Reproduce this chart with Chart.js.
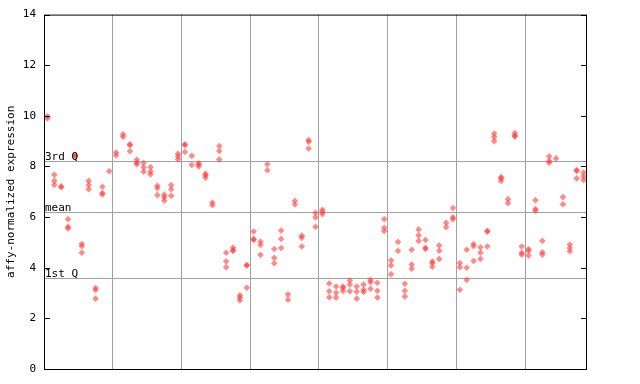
<!DOCTYPE html>
<html><head><meta charset="utf-8">
<script src="https://cdn.jsdelivr.net/npm/chart.js@4.4.0/dist/chart.umd.min.js"></script>
<style>html,body{margin:0;padding:0;background:#fff;}canvas{display:block;}</style>
</head><body>
<canvas id="c" width="640" height="384"></canvas>
<script>
// expression values per sample (replicates)
const columnValues = [
 [9.98,9.9],[7.67,7.43,7.27],[7.22,7.18],[5.92,5.62,5.55],[8.46,8.4],
 [4.94,4.85,4.59],[7.43,7.27,7.1],[3.2,3.12,2.78],[7.2,6.95,6.9],[7.81],
 [8.55,8.44],[9.27,9.17],[8.88,8.84,8.6],[8.27,8.15,8.09],[8.14,7.96,7.79],
 [7.98,7.8,7.69],[7.24,7.14,6.87],[6.88,6.78,6.65],[7.27,7.1,6.84],[8.5,8.4,8.28],
 [8.88,8.84,8.57],[8.42,8.06],[8.13,8.08,8.0],[7.71,7.66,7.56],[6.58,6.47],
 [8.81,8.61,8.28],[4.59,4.25,4.02],[4.8,4.7,4.66],[2.91,2.82,2.71],[4.12,4.08,3.21],
 [5.43,5.14,5.1],[5.03,4.9,4.51],[8.09,7.85],[4.74,4.39,4.18],[5.47,5.14,4.78],
 [2.95,2.74],[6.64,6.5],[5.27,5.18,4.84],[9.04,8.98,8.71],[6.17,5.99,5.62],
 [6.29,6.21,6.12],[3.38,3.07,2.83],[3.26,3.01,2.82],[3.26,3.2,3.08],[3.5,3.34,3.07],
 [3.26,3.05,2.78],[3.34,3.13,3.04],[3.52,3.43,3.17],[3.41,3.09,2.82],[5.92,5.58,5.44],
 [4.29,4.09,3.74],[5.02,4.67],[3.37,3.09,2.86],[4.71,4.13,3.96],[5.51,5.28,5.06],
 [5.1,4.79,4.74],[4.24,4.19,4.04],[4.88,4.67,4.35],[5.78,5.6],[6.36,5.99,5.92],
 [4.19,4.02,3.13],[4.71,4.0,3.52],[4.94,4.85,4.27],[4.81,4.59,4.35],[5.46,5.42,4.84],
 [9.3,9.16,9.0],[7.58,7.53,7.43],[6.71,6.55],[9.32,9.21,9.19],[4.84,4.59,4.52],
 [4.74,4.66,4.48],[6.67,6.32,6.25],[5.06,4.61,4.52],[8.4,8.22,8.15],[8.32],
 [6.79,6.51],[4.92,4.78,4.65],[7.86,7.82,7.53],[7.76,7.61,7.47]
];
const yTicks = [0,2,4,6,8,10,12,14];
const refLabels = ['3rd Q','mean','1st Q'];
const refValues = [8.22, 6.21, 3.6];
const groupBoundaries = [9.5,19.5,29.5,39.5,49.5,59.5,69.5];
const yTitle = 'affy-normalized expression';

const points = [];
columnValues.forEach((vals,i)=>vals.forEach(v=>points.push({x:i,y:v})));

const FONT = '11px "DejaVu Sans Mono"';
const overlay = {
  id:'overlay',
  beforeDatasetsDraw(chart){
    const {ctx, chartArea:a, scales:{y}} = chart;
    ctx.save();
    ctx.strokeStyle='#a0a0a0'; ctx.lineWidth=1;
    refValues.forEach(v=>{
      const py=Math.round(y.getPixelForValue(v))+0.5;
      ctx.beginPath(); ctx.moveTo(a.left,py); ctx.lineTo(a.right,py); ctx.stroke();
    });
    ctx.restore();
  },
  afterDatasetsDraw(chart){
    const {ctx, chartArea:a, scales:{y}} = chart;
    ctx.save();
    ctx.fillStyle='#000'; ctx.font=FONT; ctx.textAlign='left'; ctx.textBaseline='alphabetic';
    refValues.forEach((v,k)=>{
      const py=Math.round(y.getPixelForValue(v));
      ctx.fillText(refLabels[k], a.left+1, py-1);
    });
    ctx.strokeStyle='#000'; ctx.lineWidth=1;
    ctx.strokeRect(a.left+0.5, a.top+0.5, a.right-a.left-1, a.bottom-a.top);
    yTicks.forEach(v=>{
      const py=Math.round(y.getPixelForValue(v))+0.5;
      ctx.beginPath();
      ctx.moveTo(a.left,py); ctx.lineTo(a.left+6,py);
      ctx.moveTo(a.right-6,py); ctx.lineTo(a.right,py);
      ctx.stroke();
    });
    ctx.restore();
  }
};

new Chart(document.getElementById('c'), {
  type:'scatter',
  data:{datasets:[{data:points, pointStyle:'rectRot', pointRadius:3.3,
    backgroundColor:'rgba(255,60,60,0.6)', borderWidth:0, pointHoverRadius:3.3}]},
  options:{
    responsive:false, animation:false, events:[],
    layout:{padding:{left:0,right:53,top:13,bottom:15}},
    plugins:{legend:{display:false}, tooltip:{enabled:false}},
    scales:{
      x:{type:'linear', min:-0.5, max:78.5,
        afterBuildTicks(s){ s.ticks = groupBoundaries.map(v=>({value:v})); },
        afterFit(s){ s.height=0; },
        ticks:{display:false},
        grid:{color:'#a0a0a0', drawTicks:false, lineWidth:1},
        border:{display:false}},
      y:{type:'linear', min:0, max:14,
        afterBuildTicks(s){ s.ticks = yTicks.map(v=>({value:v})); },
        afterFit(s){ s.width=44; },
        ticks:{color:'#000', font:{family:'DejaVu Sans Mono', size:11}, padding:8},
        grid:{display:false, drawTicks:false},
        border:{display:false},
        title:{display:true, text:yTitle, color:'#000',
          font:{family:'DejaVu Sans Mono', size:11}, padding:{top:5,bottom:0}}}
    }
  },
  plugins:[overlay]
});
</script>
</body></html>
